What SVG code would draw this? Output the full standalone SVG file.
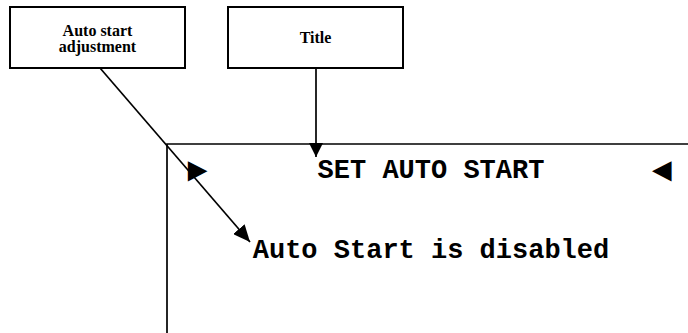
<svg xmlns="http://www.w3.org/2000/svg" width="688" height="333" viewBox="0 0 688 333">
<style>
.box{fill:#fff;stroke:#000;stroke-width:2}
.lbl{font-family:"Liberation Serif","Times New Roman",serif;font-weight:bold;font-size:16px;text-anchor:middle;fill:#000}
.lcd{font-family:"Liberation Mono","Courier New",monospace;font-weight:bold;font-size:27px;text-anchor:middle;fill:#000}
.sym{font-family:"Liberation Mono","DejaVu Sans",sans-serif;font-size:34px;fill:#000}
.con{stroke:#000;stroke-width:1.7;fill:none}
</style>
<defs>
<marker id="ah2" viewBox="0 0 10 10" refX="10" refY="5" markerWidth="14" markerHeight="14" markerUnits="userSpaceOnUse" orient="auto">
<path d="M0,0 L10,5 L0,10 z" fill="#000"/>
</marker>
<marker id="ah3" viewBox="0 0 10 10" refX="10" refY="5" markerWidth="17" markerHeight="15" markerUnits="userSpaceOnUse" orient="auto" preserveAspectRatio="none">
<path d="M0,0 L10,5 L0,10 z" fill="#000"/>
</marker>
</defs>
<g id="display">
<path class="con" d="M167,333 V144 H688" stroke-width="2"/>
<text class="sym" x="187" y="181">►</text>
<text class="lcd" x="431" y="178">SET AUTO START</text>
<text class="sym" x="652" y="181">◄</text>
<text class="lcd" x="431" y="258">Auto Start is disabled</text>
</g>
<g id="node-auto-start">
<rect class="box" x="10" y="7" width="175" height="61"/>
<text class="lbl" x="97.5" y="35.5">Auto start</text>
<text class="lbl" x="97.5" y="52">adjustment</text>
</g>
<g id="node-title">
<rect class="box" x="228" y="7" width="175" height="61"/>
<text class="lbl" x="315.5" y="43">Title</text>
</g>
<g id="connectors">
<line class="con" x1="316" y1="68" x2="316" y2="157" marker-end="url(#ah2)"/>
<line class="con" x1="100" y1="68" x2="250" y2="242" marker-end="url(#ah3)"/>
</g>
</svg>
